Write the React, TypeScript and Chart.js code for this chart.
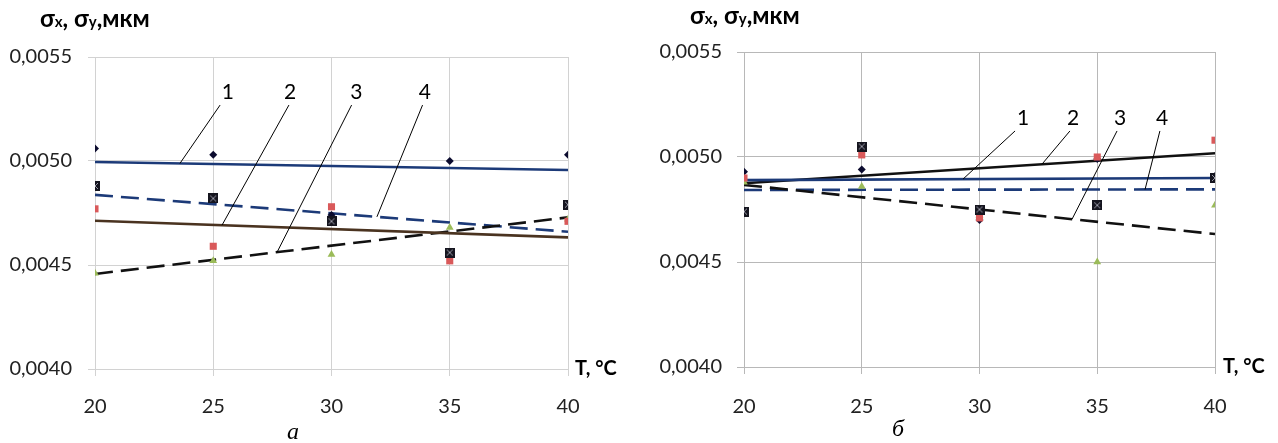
import React, { useEffect, useRef } from 'react';
import { Chart, registerables } from 'chart.js';

Chart.register(...registerables);

// ---------- data ----------
const temperatures = [20, 25, 30, 35, 40];
const trendX = [20, 40];

// panel "а"
const aDiamonds = [0.00506, 0.00503, 0.00474, 0.0050, 0.00503];
const aRedSquares = [0.00477, 0.00459, 0.00478, 0.00452, 0.00471];
const aTriangles = [0.00446, 0.00452, 0.00455, 0.00468, 0.00472];
const aBlackSquares = [0.00488, 0.00482, 0.00471, 0.00456, 0.00479];
const aTrend1 = [0.004995, 0.004957];
const aTrend2 = [0.004713, 0.004633];
const aTrend3 = [0.004457, 0.004729];
const aTrend4 = [0.004837, 0.00466];

// panel "б"
const bDiamonds = [0.00493, 0.00494, 0.0047, 0.00499, 0.00491];
const bRedSquares = [0.0049, 0.00501, 0.00471, 0.005, 0.00508];
const bTriangles = [0.00488, 0.00486, 0.00472, 0.0045, 0.00477];
const bBlackSquares = [0.00474, 0.00505, 0.00475, 0.00477, 0.0049];
const bTrend1 = [0.00489, 0.0049];
const bTrend2 = [0.004875, 0.005018];
const bTrend3 = [0.004867, 0.004633];
const bTrend4 = [0.004843, 0.004846];

// curve labels (number, trend index, T where leader meets line, leader top T, label T, leader top value, label value)
const aLabels = ['1', '2', '3', '4'];
const aLabelLine = [0, 1, 2, 3];
const aLabelEndT = [23.59, 25.37, 27.7, 31.92];
const aLabelStartT = [25.29, 28.2, 30.85, 33.85];
const aLabelTextT = [25.62, 28.25, 31.05, 33.95];
const aLabelStartV = 0.005269;
const aLabelTextV = 0.005332;

const bLabels = ['1', '2', '3', '4'];
const bLabelLine = [0, 1, 2, 3];
const bLabelEndT = [29.3, 32.65, 33.93, 37.03];
const bLabelStartT = [31.51, 33.84, 35.84, 37.66];
const bLabelTextT = [31.85, 33.97, 35.97, 37.75];
const bLabelStartV = 0.005124;
const bLabelTextV = 0.005186;

const FONT = "Lato, 'Open Sans', 'DejaVu Sans', sans-serif";
const NAVY = '#1c3a78';

function pts(ys: number[], xs: number[] = temperatures) {
  return ys.map((y, i) => ({ x: xs[i], y }));
}

function makeXSquare(): HTMLCanvasElement {
  const c = document.createElement('canvas');
  c.width = 10;
  c.height = 10;
  const g = c.getContext('2d')!;
  g.fillStyle = '#15151f';
  g.fillRect(0, 0, 10, 10);
  g.strokeStyle = '#9a9aa8';
  g.lineWidth = 1;
  g.beginPath();
  g.moveTo(2, 2);
  g.lineTo(8, 8);
  g.moveTo(8, 2);
  g.lineTo(2, 8);
  g.stroke();
  return c;
}

const overlayPlugin = {
  id: 'overlay',
  afterDraw(chart: any, _args: any, opts: any) {
    const { ctx, chartArea, scales } = chart;
    const xs = scales.x;
    const ys = scales.y;
    ctx.save();
    // curve labels with leader lines
    ctx.strokeStyle = '#000';
    ctx.lineWidth = 1;
    ctx.fillStyle = '#000';
    ctx.font = `21px ${FONT}`;
    ctx.textAlign = 'center';
    ctx.textBaseline = 'middle';
    opts.labels.forEach((t: string, i: number) => {
      const line = opts.trends[opts.labelLine[i]];
      const endT = opts.labelEndT[i];
      const endV = line[0] + ((line[1] - line[0]) * (endT - trendX[0])) / (trendX[1] - trendX[0]);
      ctx.beginPath();
      ctx.moveTo(xs.getPixelForValue(opts.labelStartT[i]), ys.getPixelForValue(opts.labelStartV));
      ctx.lineTo(xs.getPixelForValue(endT), ys.getPixelForValue(endV));
      ctx.stroke();
      ctx.fillText(t, xs.getPixelForValue(opts.labelTextT[i]), ys.getPixelForValue(opts.labelTextV));
    });
    // axis title (y)
    ctx.textAlign = 'left';
    ctx.textBaseline = 'alphabetic';
    let x = opts.titleX;
    const segs: [string, number][] = [
      ['σ', 24],
      ['x', 15],
      [', σ', 24],
      ['y', 15],
      [',мкм', 24],
    ];
    segs.forEach(([s, size]) => {
      ctx.font = `bold ${size}px ${FONT}`;
      ctx.fillText(s, x, opts.titleY);
      x += ctx.measureText(s).width;
    });
    // x axis title
    ctx.font = `bold 20px ${FONT}`;
    ctx.textBaseline = 'middle';
    ctx.fillText('T, °C', chartArea.right + opts.tGap, chartArea.bottom);
    // caption
    ctx.font = `italic 24px 'Liberation Serif', 'DejaVu Serif', serif`;
    ctx.textAlign = 'center';
    ctx.fillText(opts.caption, opts.captionX, opts.captionY);
    ctx.restore();
  },
};

type PanelProps = {
  left: number;
  diamonds: number[];
  red: number[];
  tri: number[];
  black: number[];
  trends: number[][];
  trendColors: string[];
  trendDash: number[][];
  labels: string[];
  labelLine: number[];
  labelEndT: number[];
  labelStartT: number[];
  labelTextT: number[];
  labelStartV: number;
  labelTextV: number;
  area: { left: number; right: number; top: number; bottom: number };
  gridColor: string;
  yPad: number;
  xPad: number;
  titleX: number;
  titleY: number;
  tGap: number;
  caption: string;
  captionX: number;
  captionY: number;
};

function Panel(p: PanelProps) {
  const ref = useRef<HTMLCanvasElement>(null);
  useEffect(() => {
    const W = 639;
    const H = 443;
    const xSquare = makeXSquare();
    const trendSets = p.trends.map((t, i) => ({
      type: 'line' as const,
      data: pts(t, trendX),
      borderColor: p.trendColors[i],
      borderWidth: 2.6,
      borderDash: p.trendDash[i],
      pointRadius: 0,
      showLine: true,
      fill: false,
    }));
    const chart = new Chart(ref.current!, {
      type: 'scatter',
      data: {
        datasets: [
          { data: pts(p.black), pointStyle: xSquare as any, pointRadius: 5, backgroundColor: '#15151f', borderColor: '#15151f' },
          { data: pts(p.red), pointStyle: 'rect', pointRadius: 5, backgroundColor: '#d9595a', borderColor: '#d9595a', borderWidth: 0 },
          { data: pts(p.diamonds), pointStyle: 'rectRot', pointRadius: 4, backgroundColor: '#0b0b2e', borderColor: '#0b0b2e', borderWidth: 0 },
          { data: pts(p.tri), pointStyle: 'triangle', pointRadius: 4.5, backgroundColor: '#9bbb59', borderColor: '#9bbb59', borderWidth: 0 },
          ...trendSets,
        ] as any,
      },
      options: {
        animation: false,
        responsive: false,
        devicePixelRatio: 1,
        layout: {
          padding: { left: 0, right: W - p.area.right, top: p.area.top, bottom: 0 },
        },
        plugins: {
          legend: { display: false },
          tooltip: { enabled: false },
          title: { display: false },
          overlay: {
            trends: p.trends,
            labels: p.labels,
            labelLine: p.labelLine,
            labelEndT: p.labelEndT,
            labelStartT: p.labelStartT,
            labelTextT: p.labelTextT,
            labelStartV: p.labelStartV,
            labelTextV: p.labelTextV,
            titleX: p.titleX,
            titleY: p.titleY,
            tGap: p.tGap,
            caption: p.caption,
            captionX: p.captionX,
            captionY: p.captionY,
          },
        } as any,
        scales: {
          x: {
            type: 'linear',
            min: 20,
            max: 40,
            afterFit: (s: any) => {
              s.height = H - p.area.bottom;
            },
            ticks: {
              stepSize: 5,
              padding: p.xPad,
              color: '#222222',
              font: { family: FONT, size: 20 },
            },
            grid: { color: p.gridColor, lineWidth: 1, tickLength: 7, drawTicks: true },
            border: { display: true, color: p.gridColor, width: 1 },
          },
          y: {
            type: 'linear',
            min: 0.004,
            max: 0.0055,
            afterFit: (s: any) => {
              s.width = p.area.left;
            },
            ticks: {
              stepSize: 0.0005,
              padding: p.yPad,
              color: '#222222',
              font: { family: FONT, size: 20 },
              callback: (v: any) => Number(v).toFixed(4).replace('.', ','),
            },
            grid: { color: p.gridColor, lineWidth: 1, tickLength: 7, drawTicks: true },
            border: { display: true, color: p.gridColor, width: 1 },
          },
        },
      } as any,
      plugins: [overlayPlugin],
    });
    return () => chart.destroy();
  }, []);
  return (
    <canvas
      ref={ref}
      width={639}
      height={443}
      style={{ position: 'absolute', left: p.left, top: 0, width: 639, height: 443 }}
    />
  );
}

export default function App() {
  return (
    <div style={{ position: 'absolute', left: 0, top: 0, width: 1278, height: 443, background: '#fff', overflow: 'hidden' }}>
      <Panel
        left={0}
        diamonds={aDiamonds}
        red={aRedSquares}
        tri={aTriangles}
        black={aBlackSquares}
        trends={[aTrend1, aTrend2, aTrend3, aTrend4]}
        trendColors={[NAVY, '#4a3320', '#111111', NAVY]}
        trendDash={[[], [], [18, 8], [18, 8]]}
        labels={aLabels}
        labelLine={aLabelLine}
        labelEndT={aLabelEndT}
        labelStartT={aLabelStartT}
        labelTextT={aLabelTextT}
        labelStartV={aLabelStartV}
        labelTextV={aLabelTextV}
        area={{ left: 95, right: 568, top: 57, bottom: 369 }}
        gridColor="#d2d2d2"
        yPad={16}
        xPad={19}
        titleX={40}
        titleY={27}
        tGap={7}
        caption="а"
        captionX={293}
        captionY={433}
      />
      <Panel
        left={639}
        diamonds={bDiamonds}
        red={bRedSquares}
        tri={bTriangles}
        black={bBlackSquares}
        trends={[bTrend1, bTrend2, bTrend3, bTrend4]}
        trendColors={[NAVY, '#111111', '#111111', NAVY]}
        trendDash={[[], [], [18, 8], [18, 8]]}
        labels={bLabels}
        labelLine={bLabelLine}
        labelEndT={bLabelEndT}
        labelStartT={bLabelStartT}
        labelTextT={bLabelTextT}
        labelStartV={bLabelStartV}
        labelTextV={bLabelTextV}
        area={{ left: 105, right: 576, top: 52, bottom: 367 }}
        gridColor="#b8b8b8"
        yPad={15}
        xPad={21}
        titleX={51}
        titleY={24}
        tGap={8}
        caption="б"
        captionX={259}
        captionY={430}
      />
    </div>
  );
}
